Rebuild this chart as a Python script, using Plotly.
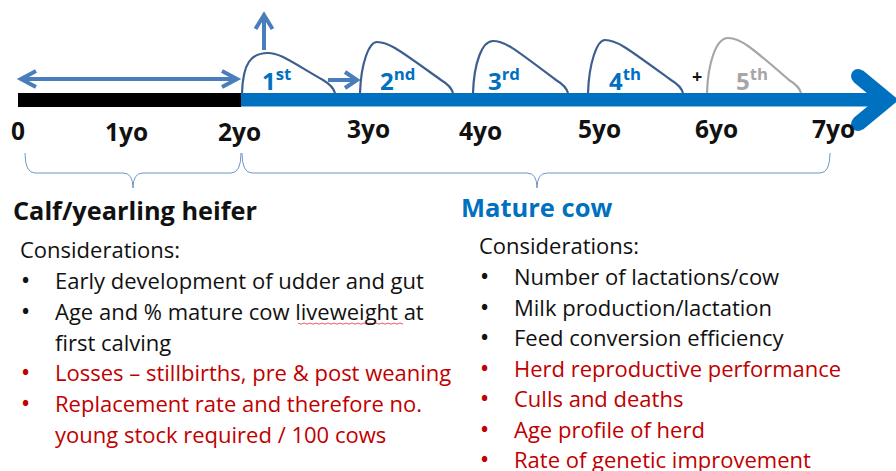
import plotly.graph_objects as go

# ---------------- data ----------------
age_labels = ["0", "1yo", "2yo", "3yo", "4yo", "5yo", "6yo", "7yo"]
age_x = [18, 126, 239, 368, 480, 599, 716, 833]
age_y = [130, 131, 131, 128, 130, 128, 128, 128]

lact_labels = ["1", "2", "3", "4", "5"]
lact_sup = ["st", "nd", "rd", "th", "th"]
lact_start = [242, 360, 473, 588, 707]
lact_peak = [268, 377, 493, 605, 728]
lact_top = [53, 42, 41, 40, 38]
lact_end = [335, 453, 568, 683, 801]
lact_label_x = [276, 397, 504, 625, 752]
lact_future = [False, False, False, False, True]

heifer_title = "Calf/yearling heifer"
heifer_items = [
    ("Early development of udder and gut", True, "black"),
    ("Age and % mature cow liveweight at", True, "black"),
    ("first calving", False, "black"),
    ("Losses \u2013 stillbirths, pre & post weaning", True, "red"),
    ("Replacement rate and therefore no.", True, "red"),
    ("young stock required / 100 cows", False, "red"),
]
cow_title = "Mature cow"
cow_items = [
    ("Number of lactations/cow", True, "black"),
    ("Milk production/lactation", True, "black"),
    ("Feed conversion efficiency", True, "black"),
    ("Herd reproductive performance", True, "red"),
    ("Culls and deaths", True, "red"),
    ("Age profile of herd", True, "red"),
    ("Rate of genetic improvement", True, "red"),
]

# ---------------- styles ----------------
FONT = "'Open Sans', Lato, sans-serif"
BLUE = "#0070C0"
ARROW = "#4A7EBB"
CURVE = "#3C5F8F"
GREY = "#A6A6A6"
RED = "#C00000"
BRACE = "#6E95C8"
COL = {"black": "#111111", "red": RED}
BODY = 22

fig = go.Figure()
fig.add_trace(go.Scatter(x=[0, 896], y=[0, 471], mode="markers",
                         marker=dict(opacity=0), hoverinfo="skip", showlegend=False))

shapes = []
ann = []

# timeline bars
shapes.append(dict(type="rect", x0=18, x1=241, y0=93, y1=107, fillcolor="black", line=dict(width=0)))
shapes.append(dict(type="rect", x0=241, x1=876, y0=93, y1=106.5, fillcolor=BLUE, line=dict(width=0)))
shapes.append(dict(type="path", path="M 858 76 L 887 100 L 858 124",
                   line=dict(color=BLUE, width=15)))
for cy in (76, 124):
    shapes.append(dict(type="circle", x0=851, x1=865, y0=cy - 7, y1=cy + 7,
                       fillcolor=BLUE, line=dict(width=0)))

# arrows
def chevron(x, y, dx, dy, size=11, half=9):
    bx, by = x - dx * size, y - dy * size
    px, py = -dy * half, dx * half
    return f"M {bx+px} {by+py} L {x} {y} L {bx-px} {by-py}"

aw = 4
shapes.append(dict(type="line", x0=22, x1=236, y0=79, y1=79, line=dict(color=ARROW, width=aw)))
shapes.append(dict(type="path", path=chevron(21, 79, -1, 0, 15, 8), line=dict(color=ARROW, width=aw)))
shapes.append(dict(type="path", path=chevron(237, 79, 1, 0, 15, 8), line=dict(color=ARROW, width=aw)))
shapes.append(dict(type="line", x0=264, x1=264, y0=50, y1=17, line=dict(color=ARROW, width=aw)))
shapes.append(dict(type="path", path=chevron(264, 15, 0, -1, 14, 8.5), line=dict(color=ARROW, width=aw)))
shapes.append(dict(type="line", x0=328, x1=355, y0=80, y1=80, line=dict(color=ARROW, width=aw)))
shapes.append(dict(type="path", path=chevron(357, 80, 1, 0, 12, 8), line=dict(color=ARROW, width=aw)))

# lactation curves
base = 93
for lab, sup, s, p, t, e, lx, fut in zip(lact_labels, lact_sup, lact_start, lact_peak,
                                          lact_top, lact_end, lact_label_x, lact_future):
    c = GREY if fut else CURVE
    path = (f"M {s} {base} C {s+1} {base-30}, {s+9} {t}, {p} {t} "
            f"C {p+12} {t}, {p+22} {t+8}, {e-12} {base-13} "
            f"Q {e-2} {base-7}, {e} {base}")
    shapes.append(dict(type="path", path=path, line=dict(color=c, width=2.2)))
    tc = GREY if fut else BLUE
    ann.append(dict(x=lx, y=79, text=f"<b>{lab}<sup>{sup}</sup></b>",
                    font=dict(family=FONT, size=24, color=tc), xanchor="center", yanchor="middle"))
ann.append(dict(x=697, y=76, text="<b>+</b>", font=dict(family=FONT, size=18, color="#111111"),
                xanchor="center", yanchor="middle"))

# age labels
for lab, x, y in zip(age_labels, age_x, age_y):
    ann.append(dict(x=x, y=y, text=f"<b>{lab}</b>", font=dict(family=FONT, size=24.5, color="#111111"),
                    xanchor="center", yanchor="middle"))

# braces
def brace(x0, xm, x1, top=153, mid=173, tip=188):
    return (f"M {x0} {top} Q {x0} {mid}, {x0+10} {mid} L {xm-10} {mid} "
            f"Q {xm} {mid}, {xm} {tip} Q {xm} {mid}, {xm+10} {mid} "
            f"L {x1-10} {mid} Q {x1} {mid}, {x1} {top}")
shapes.append(dict(type="path", path=brace(25, 133, 241), line=dict(color=BRACE, width=1)))
shapes.append(dict(type="path", path=brace(242, 537, 830), line=dict(color=BRACE, width=1)))

# titles
ann.append(dict(x=11, y=210, text=f"<b>{heifer_title}</b>", font=dict(family=FONT, size=25.3, color="#111111"),
                xanchor="left", yanchor="middle"))
ann.append(dict(x=459, y=207, text=f"<b>{cow_title}</b>", font=dict(family=FONT, size=25.5, color=BLUE),
                xanchor="left", yanchor="middle"))

# considerations
def block(x_head, y_head, x_bul, x_txt, y0, step, items):
    ann.append(dict(x=x_head, y=y_head, text="Considerations:", font=dict(family=FONT, size=BODY, color="#111111"),
                    xanchor="left", yanchor="middle"))
    for i, (txt, bullet, col) in enumerate(items):
        y = y0 + i * step
        if bullet:
            ann.append(dict(x=x_bul, y=y, text="<b>\u2022</b>", font=dict(family=FONT, size=19, color=COL[col]),
                            xanchor="center", yanchor="middle"))
        ann.append(dict(x=x_txt, y=y, text=txt, font=dict(family=FONT, size=BODY, color=COL[col]),
                        xanchor="left", yanchor="middle"))

block(18, 249, 25, 53, 280, 30.8, heifer_items)
block(477, 245, 484, 512, 276, 30.5, cow_items)

# spell-check squiggle under "liveweight"
sq = "M 298 323"
for i in range(35):
    sq += f" L {298 + (i+1)*3} {323 + (1.2 if i % 2 == 0 else 0)}"
shapes.append(dict(type="path", path=sq, line=dict(color="#E03030", width=0.8)))

fig.update_layout(
    width=896, height=471, margin=dict(l=0, r=0, t=0, b=0),
    paper_bgcolor="white", plot_bgcolor="white",
    xaxis=dict(range=[0, 896], visible=False, fixedrange=True),
    yaxis=dict(range=[471, 0], visible=False, fixedrange=True),
    shapes=shapes, annotations=[dict(a, showarrow=False) for a in ann],
    showlegend=False,
)
fig.write_html("out.html", config=dict(displayModeBar=False),
               post_script="document.body.style.margin='0';document.body.style.padding='0';")
